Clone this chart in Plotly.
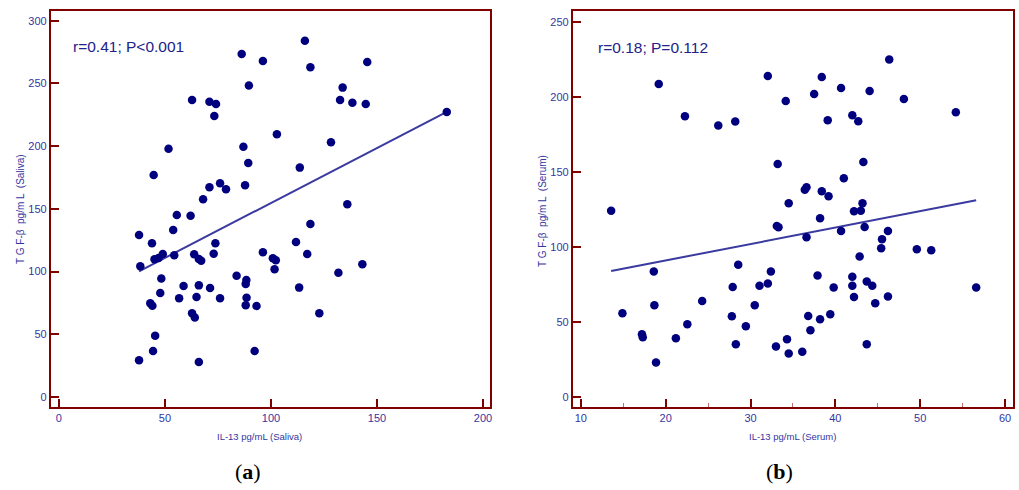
import numpy as np
import plotly.graph_objects as go

# Panel (a): IL-13 vs TGF-beta in saliva
saliva_il13 = [86.2, 89.6, 62.8, 71.0, 74.1, 73.3, 51.7, 87.0, 89.3, 44.7,
               71.0, 76.0, 78.8, 87.8, 68.0, 55.6, 62.1, 116.0, 96.2, 118.6,
               145.4, 133.8, 132.6, 138.4, 144.7, 182.9, 102.8, 128.3, 113.6, 136.0,
               37.8, 43.9, 38.4, 45.1, 47.0, 49.0, 54.4, 53.9, 63.8, 66.0,
               67.1, 73.0, 73.8, 48.3, 47.8, 58.8, 66.0, 56.7, 64.9, 71.3,
               76.0, 43.1, 44.1, 62.8, 64.1, 83.8, 88.4, 88.1, 88.5, 88.1,
               93.2, 45.4, 44.4, 37.8, 66.0, 92.3, 118.6, 111.8, 96.2, 117.1,
               100.9, 102.3, 101.7, 143.1, 131.8, 113.3, 122.8]
saliva_tgfb = [273.5, 248.3, 236.8, 235.5, 233.6, 224.1, 198.0, 199.6, 186.6, 177.0,
               167.2, 170.4, 165.6, 168.8, 157.6, 145.1, 144.6, 284.1, 267.9, 262.9,
               267.1, 246.7, 236.8, 234.7, 233.6, 227.3, 209.5, 203.1, 182.9, 153.7,
               129.2, 122.5, 104.2, 109.8, 110.8, 114.0, 113.0, 133.2, 113.8, 110.0,
               108.7, 114.3, 122.5, 94.4, 82.9, 88.5, 89.0, 78.7, 79.7, 86.9,
               78.7, 74.7, 72.8, 66.7, 63.3, 96.7, 93.3, 90.1, 79.2, 73.1,
               72.6, 48.9, 36.7, 29.2, 27.9, 36.7, 138.0, 123.6, 115.4, 114.0,
               110.6, 109.0, 101.8, 105.8, 99.1, 87.2, 66.7]
saliva_fit = {"slope": 0.876, "intercept": 67.1}
saliva_stats = "r=0.41; P<0.001"

# Panel (b): IL-13 vs TGF-beta in serum
serum_il13 = [19.18, 22.27, 26.2, 28.2, 13.57, 32.04, 38.4, 46.35, 34.15, 37.5,
              40.67, 44.04, 48.08, 54.2, 39.1, 42.0, 42.7, 33.2, 43.3, 41.0,
              36.4, 36.6, 38.4, 39.2, 34.5, 43.2, 42.2, 43.0, 38.2, 18.6,
              28.55, 27.9, 14.9, 18.67, 24.3, 17.2, 17.3, 21.2, 22.55, 27.8,
              29.45, 30.5, 28.27, 18.86, 33.1, 33.3, 36.6, 40.67, 43.45, 46.2,
              45.5, 45.4, 49.6, 51.3, 42.86, 32.4, 31.06, 32.04, 37.9, 42.0,
              42.0, 43.7, 44.35, 39.8, 56.6, 42.2, 46.2, 44.7, 39.4, 36.8,
              38.2, 37.06, 34.3, 33.0, 34.5, 36.1, 43.7]
serum_tgfb = [208.7, 187.1, 180.9, 183.6, 124.2, 214.0, 213.3, 224.9, 197.3, 202.0,
              206.0, 204.0, 198.7, 189.8, 184.4, 187.8, 183.8, 155.3, 156.7, 145.8,
              138.2, 139.8, 137.1, 133.8, 129.1, 129.1, 123.8, 124.2, 119.1, 83.6,
              88.2, 73.3, 55.8, 61.1, 64.0, 41.8, 39.8, 39.1, 48.4, 53.8,
              47.1, 61.1, 35.1, 22.9, 114.0, 113.1, 106.4, 110.7, 113.3, 110.7,
              105.1, 99.1, 98.4, 97.8, 93.6, 83.6, 74.2, 75.6, 80.9, 80.2,
              74.2, 76.9, 74.2, 72.9, 72.9, 66.7, 66.9, 62.4, 55.1, 54.0,
              51.8, 44.4, 38.4, 33.6, 28.9, 30.2, 35.1]
serum_fit = {"slope": 1.095, "intercept": 69.1}
serum_stats = "r=0.18; P=0.112"

# Tick values
saliva_xticks = [0, 50, 100, 150, 200]
saliva_yticks = [0, 50, 100, 150, 200, 250, 300]
serum_xticks = [10, 20, 30, 40, 50, 60]
serum_yticks = [0, 50, 100, 150, 200, 250]

W, H = 1019, 490
FRAME = "#800000"
DOT = "#00007F"
LINE = "#3A3AA0"
TEXT = "#3535A0"
FONT = "Liberation Sans Narrow, Liberation Sans, Arial, sans-serif"


def px_x(p):
    return p / W


def px_y(p):
    return 1 - p / H


def fit_line(xs, fit):
    xs = np.array([min(xs), max(xs)])
    return xs, fit["intercept"] + fit["slope"] * xs


fig = go.Figure()

for i, (xv, yv, fit) in enumerate([(saliva_il13, saliva_tgfb, saliva_fit),
                                   (serum_il13, serum_tgfb, serum_fit)]):
    xa = "x" if i == 0 else "x2"
    ya = "y" if i == 0 else "y2"
    lx, ly = fit_line(xv, fit)
    fig.add_trace(go.Scatter(x=lx, y=ly, mode="lines", xaxis=xa, yaxis=ya,
                             line=dict(color=LINE, width=2), hoverinfo="skip",
                             showlegend=False))
    fig.add_trace(go.Scatter(x=xv, y=yv, mode="markers", xaxis=xa, yaxis=ya,
                             marker=dict(color=DOT, size=8.5, line=dict(width=0)),
                             showlegend=False))

axis_common = dict(
    showline=True, linecolor=FRAME, linewidth=2, mirror=True,
    ticks="inside", ticklen=8, tickwidth=2, tickcolor=FRAME,
    showgrid=False, zeroline=False,
    tickfont=dict(family=FONT, size=11, color=TEXT),
)

fig.update_layout(
    width=W, height=H,
    margin=dict(l=0, r=0, t=0, b=0),
    paper_bgcolor="white", plot_bgcolor="white",
    xaxis=dict(domain=[px_x(51), px_x(491)], range=[-3.76, 203.3],
               tickvals=saliva_xticks, anchor="y", **axis_common),
    yaxis=dict(domain=[px_y(407), px_y(11)], range=[-8, 307.8],
               tickvals=saliva_yticks, anchor="x", **axis_common),
    xaxis2=dict(domain=[px_x(574), px_x(1015)], range=[9.06, 60.94],
                tickvals=serum_xticks, anchor="y2",
                minor=dict(dtick=5, tick0=10, ticks="inside", ticklen=4,
                           tickwidth=1, tickcolor="#C07070"),
                **axis_common),
    yaxis2=dict(domain=[px_y(407), px_y(11)], range=[-6.7, 257.3],
                tickvals=serum_yticks, anchor="x2", **axis_common),
)

annotations = [
    # correlation statistics
    dict(text=saliva_stats, x=px_x(71), y=px_y(46), xanchor="left", yanchor="middle",
         font=dict(family=FONT, size=15.5, color="#22228A")),
    dict(text=serum_stats, x=px_x(597), y=px_y(48), xanchor="left", yanchor="middle",
         font=dict(family=FONT, size=15.5, color="#22228A")),
    # axis titles
    dict(text="IL-13 pg/mL (Saliva)", x=px_x(260), y=px_y(436),
         xanchor="center", yanchor="middle", font=dict(family=FONT, size=9.5, color=TEXT)),
    dict(text="IL-13 pg/mL (Serum)", x=px_x(794), y=px_y(436),
         xanchor="center", yanchor="middle", font=dict(family=FONT, size=9.5, color=TEXT)),
    dict(text="T G F-β  pg/m L  (Saliva)", x=px_x(20), y=px_y(209), textangle=-90,
         xanchor="center", yanchor="middle", font=dict(family=FONT, size=10, color=TEXT)),
    dict(text="T G F-β  pg/m L  (Serum)", x=px_x(543), y=px_y(211), textangle=-90,
         xanchor="center", yanchor="middle", font=dict(family=FONT, size=10, color=TEXT)),
    # panel labels
    dict(text="(<b>a</b>)", x=px_x(248), y=px_y(471), xanchor="center", yanchor="middle",
         font=dict(family="Liberation Serif, DejaVu Serif, serif", size=22, color="black")),
    dict(text="(<b>b</b>)", x=px_x(781), y=px_y(471), xanchor="center", yanchor="middle",
         font=dict(family="Liberation Serif, DejaVu Serif, serif", size=22, color="black")),
]
for a in annotations:
    a.update(xref="paper", yref="paper", showarrow=False)
fig.update_layout(annotations=annotations)

fig.write_html("out.html")
